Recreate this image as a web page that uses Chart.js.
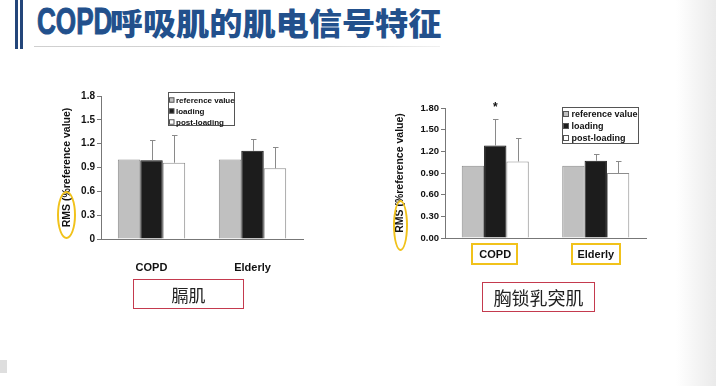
<!DOCTYPE html>
<html lang="zh">
<head>
<meta charset="utf-8">
<script src="https://cdn.jsdelivr.net/npm/chart.js@4/dist/chart.umd.min.js"></script>
<style>
body { margin: 0; width: 716px; height: 386px; overflow: hidden; background: #fff; position: relative; font-family: 'Liberation Sans', Arial, sans-serif; }
.abs { position: absolute; }
.vbar { position: absolute; top: 0; width: 3px; height: 49px; background: #23467a; }
#title { position: absolute; left: 37px; top: 4px; white-space: nowrap; font-family: 'Noto Sans CJK SC', sans-serif; font-weight: 900; font-size: 31px; line-height: 36px; color: #22508c; transform: scaleX(1.07); transform-origin: left top; }
#title .latin { display: inline-block; width: 68px; vertical-align: top; font-family: 'Liberation Sans', sans-serif; font-weight: bold; font-size: 37px; line-height: 36px; transform: scaleX(0.66); transform-origin: left top; -webkit-text-stroke: 1px #22508c; }
.rule { position: absolute; left: 34px; top: 46px; width: 406px; height: 1px; background: linear-gradient(to right, #cfcfcf 0%, #d6d6d6 70%, #f0f0f0 100%); }
.redbox { position: absolute; border: 1px solid #c43a4e; box-sizing: border-box; display: flex; align-items: center; justify-content: center; font-family: 'Noto Sans CJK SC', sans-serif; color: #222; }
.ybox { position: absolute; border: 2px solid #f1c21b; box-sizing: border-box; }
.oval { position: absolute; border: 2px solid #f1c21b; border-radius: 50%; box-sizing: border-box; }
.edge { position: absolute; right: 0; top: 0; width: 40px; height: 386px; background: linear-gradient(to right, rgba(236,236,236,0), rgba(232,232,232,0.9)); }
</style>
</head>
<body>
<div class="vbar" style="left:15px"></div>
<div class="vbar" style="left:20px"></div>
<div id="title"><span class="latin">COPD</span>呼吸肌的肌电信号特征</div>
<div class="rule"></div>

<div class="abs" style="left:50px;top:80px;width:260px;height:200px"><canvas id="diaChart" width="260" height="200"></canvas></div>
<div class="abs" style="left:380px;top:90px;width:270px;height:190px"><canvas id="scmChart" width="270" height="190"></canvas></div>

<div class="oval" style="left:57px;top:191px;width:19px;height:48px"></div>
<div class="oval" style="left:393px;top:200px;width:15px;height:51px"></div>
<div class="ybox" style="left:471px;top:243px;width:47px;height:22px"></div>
<div class="ybox" style="left:571px;top:243px;width:50px;height:22px"></div>

<div class="redbox" style="left:133px;top:279px;width:111px;height:30px;font-size:17px">膈肌</div>
<div class="redbox" style="left:482px;top:282px;width:113px;height:30px;font-size:18px">胸锁乳突肌</div>

<div class="abs" style="left:0;top:360px;width:7px;height:13px;background:#dedede"></div>
<div class="edge"></div>

<script>
// Categories and series
const categories = ['COPD', 'Elderly'];
const seriesNames = ['reference value', 'loading', 'post-loading'];

// 膈肌 (diaphragm) RMS, relative to reference
const diaRef = [1.00, 1.00];
const diaLoad = [0.99, 1.11];
const diaPost = [0.96, 0.89];
const diaLoadSd = [0.26, 0.15];
const diaPostSd = [0.35, 0.27];

// 胸锁乳突肌 (sternocleidomastoid) RMS
const scmRef = [1.00, 1.00];
const scmLoad = [1.28, 1.07];
const scmPost = [1.06, 0.90];
const scmLoadSd = [0.37, 0.09];
const scmPostSd = [0.32, 0.17];

const yTicks = [0, 0.3, 0.6, 0.9, 1.2, 1.5, 1.8];

const fontFamily = "'Liberation Sans', Arial, sans-serif";
const axisColor = '#777';

// One-sided (upper) error bars from dataset.sd
const errorBarPlugin = {
    id: 'errorBars',
    afterDatasetsDraw(chart) {
        const ctx = chart.ctx;
        const yScale = chart.scales.y;
        ctx.save();
        ctx.strokeStyle = '#8a8a8a';
        ctx.lineWidth = 1;
        chart.data.datasets.forEach((ds, di) => {
            if (!ds.sd) return;
            chart.getDatasetMeta(di).data.forEach((bar, i) => {
                const x = Math.round(bar.x) + 0.5;
                const top = Math.round(yScale.getPixelForValue(ds.data[i] + ds.sd[i])) + 0.5;
                ctx.beginPath();
                ctx.moveTo(x, bar.y);
                ctx.lineTo(x, top);
                ctx.moveTo(x - 2.5, top);
                ctx.lineTo(x + 3, top);
                ctx.stroke();
            });
        });
        ctx.restore();
    }
};

// Boxed legend placed inside the plot
const boxLegendPlugin = {
    id: 'boxLegend',
    afterDraw(chart, args, opts) {
        const ctx = chart.ctx;
        ctx.save();
        ctx.strokeStyle = '#555';
        ctx.lineWidth = 1;
        ctx.strokeRect(opts.x + 0.5, opts.y + 0.5, opts.w, opts.h);
        ctx.font = 'bold ' + opts.size + 'px ' + fontFamily;
        ctx.textBaseline = 'middle';
        chart.data.datasets.forEach((ds, i) => {
            const cy = Math.round(opts.y + opts.first + i * opts.step);
            const m = opts.marker;
            ctx.fillStyle = ds.backgroundColor;
            ctx.fillRect(opts.x + 1.5, cy - m / 2, m, m);
            ctx.strokeStyle = '#555';
            ctx.strokeRect(opts.x + 1.5, cy - m / 2, m, m);
            ctx.fillStyle = '#111';
            ctx.fillText(ds.label, opts.x + opts.textX, cy + 0.5);
        });
        ctx.restore();
    }
};

// Significance mark above one bar
const starPlugin = {
    id: 'star',
    afterDraw(chart, args, opts) {
        if (!opts.show) return;
        const ds = chart.data.datasets[opts.dataset];
        const bar = chart.getDatasetMeta(opts.dataset).data[opts.index];
        const top = chart.scales.y.getPixelForValue(ds.data[opts.index] + ds.sd[opts.index]);
        const ctx = chart.ctx;
        ctx.save();
        ctx.font = 'bold 12px ' + fontFamily;
        ctx.fillStyle = '#111';
        ctx.textAlign = 'center';
        ctx.textBaseline = 'middle';
        ctx.fillText('*', bar.x, top - 11);
        ctx.restore();
    }
};

function makeDatasets(ref, load, post, loadSd, postSd) {
    return [
        { label: seriesNames[0], data: ref, backgroundColor: '#c0c0c0', borderColor: '#8c8c8c', borderWidth: 1 },
        { label: seriesNames[1], data: load, sd: loadSd, backgroundColor: '#1c1c1c', borderColor: '#111', borderWidth: 1 },
        { label: seriesNames[2], data: post, sd: postSd, backgroundColor: '#ffffff', borderColor: '#8c8c8c', borderWidth: 1 }
    ];
}

function makeChart(id, datasets, s) {
    new Chart(document.getElementById(id), {
        type: 'bar',
        data: { labels: categories, datasets: datasets },
        plugins: [errorBarPlugin, boxLegendPlugin, starPlugin],
        options: {
            responsive: false,
            animation: false,
            devicePixelRatio: 1,
            layout: { padding: { top: s.top, right: s.right, left: 0, bottom: 0 } },
            datasets: { bar: { categoryPercentage: 0.667, barPercentage: 1.0 } },
            scales: {
                x: {
                    grid: { drawOnChartArea: false, drawTicks: false },
                    border: { color: axisColor },
                    ticks: { color: '#111', padding: s.xPad, font: { family: fontFamily, size: 11, weight: 'bold' } },
                    afterFit(scale) { scale.height = s.xHeight; }
                },
                y: {
                    min: 0,
                    max: 1.8,
                    afterBuildTicks(scale) { scale.ticks = yTicks.map(v => ({ value: v })); },
                    grid: { drawOnChartArea: false, drawTicks: true, tickLength: 4, color: axisColor },
                    border: { color: axisColor },
                    ticks: {
                        color: '#111',
                        padding: 2,
                        font: { family: fontFamily, size: s.tickSize, weight: 'bold' },
                        callback: s.fmt
                    },
                    title: {
                        display: true,
                        text: 'RMS (%reference value)',
                        color: '#111',
                        padding: { top: s.titlePad, bottom: 0 },
                        font: { family: fontFamily, size: 10.5, weight: 'bold' }
                    },
                    afterFit(scale) { scale.width = s.yWidth; }
                }
            },
            plugins: {
                legend: { display: false },
                tooltip: { enabled: false },
                boxLegend: s.legend,
                star: s.star
            }
        }
    });
}

makeChart('diaChart', makeDatasets(diaRef, diaLoad, diaPost, diaLoadSd, diaPostSd), {
    top: 16, right: 7, xHeight: 41, yWidth: 51, xPad: 22, titlePad: 11, tickSize: 10,
    fmt: v => (v === 0 ? '0' : v.toFixed(1)),
    legend: { x: 118, y: 12, w: 66, h: 33, first: 8, step: 11, size: 8, marker: 4.5, textX: 8 },
    star: { show: false }
});

makeChart('scmChart', makeDatasets(scmRef, scmLoad, scmPost, scmLoadSd, scmPostSd), {
    top: 18, right: 4, xHeight: 42, yWidth: 65, xPad: 10, titlePad: 14, tickSize: 9.5,
    fmt: v => v.toFixed(2),
    legend: { x: 182, y: 17, w: 76, h: 36, first: 6.5, step: 12, size: 9, marker: 5, textX: 9.5 },
    star: { show: true, dataset: 1, index: 0 }
});
</script>
</body>
</html>
